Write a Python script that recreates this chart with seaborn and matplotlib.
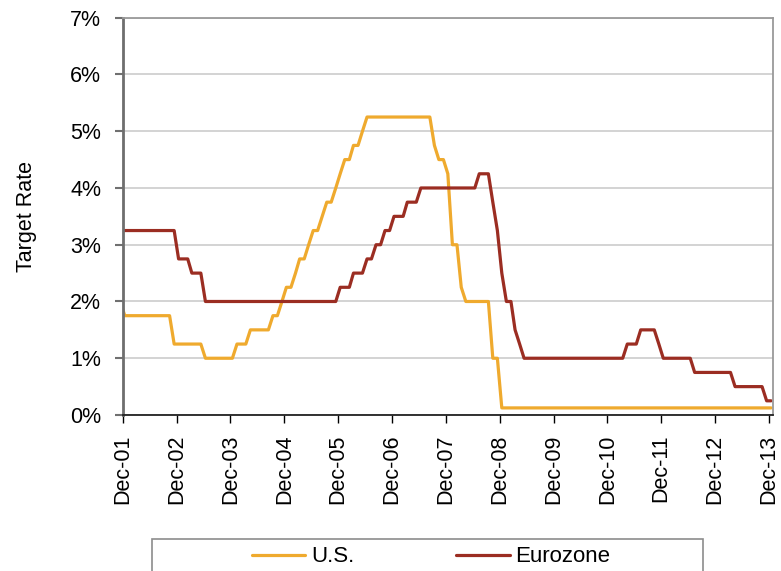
import pandas as pd
import matplotlib
matplotlib.use("Agg")
import matplotlib.pyplot as plt
import matplotlib.dates as mdates
from matplotlib.patches import Rectangle
import seaborn as sns

# ================= data (monthly, Nov-01 .. Dec-13) =================
START_MONTH = "2001-11-01"
END_MONTH = "2013-12-01"

us_rate = (
    [2.0, 1.75]                                                      # 2001 Nov-Dec
    + [1.75] * 10 + [1.25, 1.25]                                     # 2002
    + [1.25] * 5 + [1.0] * 7                                         # 2003
    + [1.25] * 3 + [1.5] * 5 + [1.75, 1.75, 2.0, 2.25]               # 2004
    + [2.25, 2.5, 2.75, 2.75, 3.0, 3.25, 3.25, 3.5, 3.75, 3.75, 4.0, 4.25]  # 2005
    + [4.5, 4.5, 4.75, 4.75, 5.0] + [5.25] * 7                       # 2006
    + [5.25] * 8 + [4.75, 4.5, 4.5, 4.25]                            # 2007
    + [3.0, 3.0, 2.25] + [2.0] * 6 + [1.0, 1.0, 0.125]               # 2008
    + [0.125] * 12                                                   # 2009
    + [0.125] * 12                                                   # 2010
    + [0.125] * 12                                                   # 2011
    + [0.125] * 12                                                   # 2012
    + [0.125] * 12                                                   # 2013
)

euro_rate = (
    [3.25, 3.25]                                                     # 2001 Nov-Dec
    + [3.25] * 11 + [2.75]                                           # 2002
    + [2.75, 2.75, 2.5, 2.5, 2.5] + [2.0] * 7                        # 2003
    + [2.0] * 12                                                     # 2004
    + [2.0] * 11 + [2.25]                                            # 2005
    + [2.25, 2.25, 2.5, 2.5, 2.5, 2.75, 2.75, 3.0, 3.0, 3.25, 3.25, 3.5]  # 2006
    + [3.5, 3.5, 3.75, 3.75, 3.75] + [4.0] * 7                       # 2007
    + [4.0] * 6 + [4.25, 4.25, 4.25, 3.75, 3.25, 2.5]                # 2008
    + [2.0, 2.0, 1.5, 1.25] + [1.0] * 8                              # 2009
    + [1.0] * 12                                                     # 2010
    + [1.0, 1.0, 1.0, 1.25, 1.25, 1.25, 1.5, 1.5, 1.5, 1.5, 1.25, 1.0]  # 2011
    + [1.0] * 6 + [0.75] * 6                                         # 2012
    + [0.75] * 3 + [0.5] * 7 + [0.25, 0.25]                          # 2013
)

series_names = ["U.S.", "Eurozone"]
y_ticks = [0, 1, 2, 3, 4, 5, 6, 7]

COLOR_US = "#EFAA2E"
COLOR_EURO = "#9B2D22"
PALETTE = {"U.S.": COLOR_US, "Eurozone": COLOR_EURO}

# points sit in the middle of each month
dates = pd.date_range(START_MONTH, END_MONTH, freq="MS") + pd.Timedelta(days=14)
df = pd.concat([
    pd.DataFrame({"Date": dates, "Rate": us_rate, "Series": series_names[0]}),
    pd.DataFrame({"Date": dates, "Rate": euro_rate, "Series": series_names[1]}),
])

# ================= style =================
sns.set_theme(style="white")
plt.rcParams["font.family"] = ["Liberation Sans", "DejaVu Sans"]
plt.rcParams["text.color"] = "black"
plt.rcParams["axes.labelcolor"] = "black"
plt.rcParams["xtick.labelcolor"] = "black"
plt.rcParams["ytick.labelcolor"] = "black"

fig = plt.figure(figsize=(7.81, 5.71), dpi=100)
ax = fig.add_axes([0.1571, 0.2732, 0.8330, 0.6958])

sns.lineplot(data=df, x="Date", y="Rate", hue="Series", hue_order=series_names,
             palette=PALETTE, linewidth=2.3, ax=ax, legend=True)

ax.set_xlim(pd.Timestamp("2001-12-01"), pd.Timestamp("2013-12-30"))
ax.set_ylim(0, 7)

ax.set_yticks(y_ticks)
ax.set_yticklabels([f"{t}%" for t in y_ticks])
ax.xaxis.set_major_locator(mdates.MonthLocator(bymonth=12, bymonthday=1))
ax.xaxis.set_major_formatter(mdates.DateFormatter("%b-%y"))
plt.setp(ax.get_xticklabels(), rotation=90, ha="center", va="top")

ax.set_xlabel("")
ax.set_ylabel("Target Rate", fontsize=15.5, labelpad=24, color="black")

ax.tick_params(axis="x", direction="out", length=6, width=1, color="black",
               labelsize=15.5, pad=8, bottom=True, labelcolor="black")
ax.tick_params(axis="y", direction="out", length=5.5, width=1.5, color="#707070",
               labelsize=15.5, pad=10, left=True, labelcolor="black")

ax.yaxis.grid(True, color="#D3D3D3", linewidth=1.4)
ax.xaxis.grid(False)
ax.set_axisbelow(True)

for side in ["top", "right"]:
    ax.spines[side].set_color("#9A9A9A")
    ax.spines[side].set_linewidth(1.3)
ax.spines["left"].set_color("#6E6E6E")
ax.spines["left"].set_linewidth(2.0)
ax.spines["bottom"].set_color("#222222")
ax.spines["bottom"].set_linewidth(1.3)

# legend below, in a box cut by the bottom edge
handles, labels = ax.get_legend_handles_labels()
ax.get_legend().remove()
leg = fig.legend(handles, labels, loc="center", bbox_to_anchor=(431 / 781, 1 - 557 / 571),
                 ncol=2, frameon=False, fontsize=16, handlelength=2.4, handletextpad=0.25,
                 columnspacing=4.6)
for txt in leg.get_texts():
    txt.set_color("black")
fig.patches.append(Rectangle((152 / 781, -0.05), (703 - 152) / 781, 0.05 + 1 - 539 / 571,
                             transform=fig.transFigure, fill=False,
                             edgecolor="#8C8C8C", linewidth=1.2))

plt.savefig("out.png", dpi=100)
plt.close()
